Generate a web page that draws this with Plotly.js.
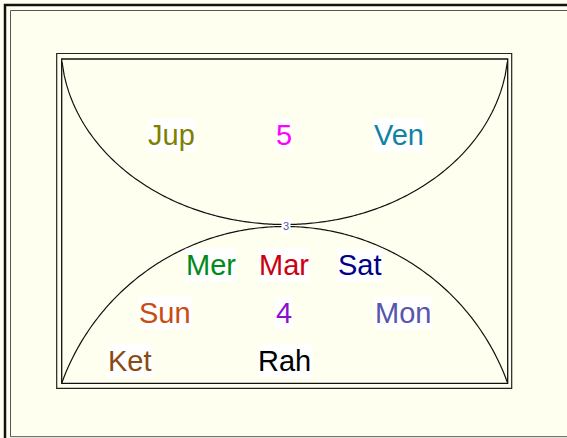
<!DOCTYPE html>
<html>
<head>
<meta charset="utf-8">
<script src="https://cdn.plot.ly/plotly-3.0.1.min.js"></script>
<style>
html,body{margin:0;padding:0;background:#fffff0;overflow:hidden;}
#chart{width:567px;height:438px;}
</style>
</head>
<body>
<div id="chart"></div>
<script>
// ---- data ----
const houseNumbers = ['5', '4', '3'];
const house5Planets = ['Jup', 'Ven'];
const house4Planets = ['Mer', 'Mar', 'Sat', 'Sun', 'Mon', 'Ket', 'Rah'];

// ---- styles / layout ----
const colors = {
  Jup: '#808000', Ven: '#0f84a2', Mer: '#008a18', Mar: '#cc0010', Sat: '#000088',
  Sun: '#c84c14', Mon: '#5656aa', Ket: '#8b4a14', Rah: '#000000',
  '5': '#ff00ff', '4': '#8a10cc', '3': '#5656aa'
};
const pos = {
  Jup: [171, 135], '5': [284, 135], Ven: [398.5, 135],
  Mer: [211, 265], Mar: [284, 265], Sat: [359.5, 265],
  Sun: [165, 313], '4': [284, 313], Mon: [403, 313],
  Ket: [130, 361], Rah: [284, 361],
  '3': [286, 226]
};
const FONT = 'Liberation Sans, Arial, Helvetica, sans-serif';

function ellipsePath(cx, cy, a, b, x0, x1, sign, n) {
  // sample ellipse arc between x0 and x1, sign=+1 lower half, -1 upper half
  let d = '';
  for (let i = 0; i <= n; i++) {
    const x = x0 + (x1 - x0) * i / n;
    const t = Math.max(0, 1 - Math.pow((x - cx) / a, 2));
    const y = cy + sign * b * Math.sqrt(t);
    d += (i === 0 ? 'M' : 'L') + x.toFixed(2) + ',' + y.toFixed(2);
  }
  return d;
}

const L = 61.7, R = 507.7, T = 59, B = 383.3, CX = (L + R) / 2;
const shapes = [
  // outer page border (double)
  {type: 'rect', x0: 5, y0: 5, x1: 575, y1: 445, line: {color: '#111', width: 2.5}},
  {type: 'rect', x0: 10.5, y0: 10.5, x1: 570, y1: 436.7, line: {color: '#555', width: 1}},
  // chart frame (double)
  {type: 'rect', x0: 56.7, y0: 53.5, x1: 511.7, y1: 388.3, line: {color: '#222', width: 1.2}},
  {type: 'rect', x0: L, y0: T, x1: R, y1: B, line: {color: '#111', width: 1.3}},
  // arcs
  {type: 'path', path: ellipsePath(CX, 45, 223.7, 179.5, L + 0.3, R - 0.3, 1, 200), line: {color: '#111', width: 1.2}},
  {type: 'path', path: ellipsePath(CX, 463.5, 237, 237, L + 0.3, R - 0.3, -1, 200), line: {color: '#111', width: 1.2}}
];

const labels = [house5Planets[0], houseNumbers[0], house5Planets[1]].concat(
  house4Planets.slice(0, 4), [houseNumbers[1]], house4Planets.slice(4));
const annotations = labels.map(s => ({
  x: pos[s][0], y: pos[s][1], xref: 'x', yref: 'y', text: s, showarrow: false,
  font: {family: FONT, size: 29, color: colors[s]}, bgcolor: '#ffffff', borderpad: 0,
  xanchor: 'center', yanchor: 'middle'
}));
annotations.push({
  x: pos['3'][0], y: pos['3'][1], xref: 'x', yref: 'y', text: houseNumbers[2], showarrow: false,
  font: {family: FONT, size: 11, color: colors['3']}, bgcolor: '#ffffff', borderpad: 1,
  xanchor: 'center', yanchor: 'middle'
});

Plotly.newPlot('chart', [], {
  width: 567, height: 438,
  margin: {l: 0, r: 0, t: 0, b: 0, pad: 0},
  paper_bgcolor: '#fffff0', plot_bgcolor: '#fffff0',
  xaxis: {range: [0, 567], visible: false, fixedrange: true},
  yaxis: {range: [438, 0], visible: false, fixedrange: true},
  showlegend: false,
  shapes: shapes,
  annotations: annotations
}, {staticPlot: true, displayModeBar: false});
</script>
</body>
</html>
